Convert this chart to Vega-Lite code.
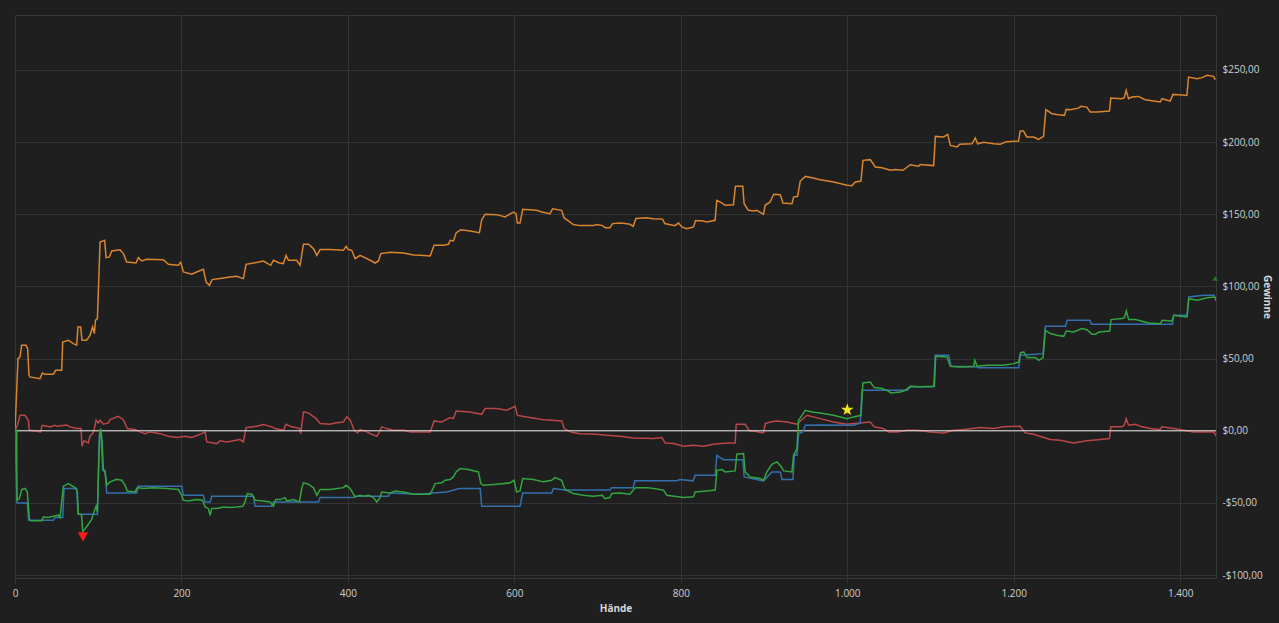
{
  "$schema": "https://vega.github.io/schema/vega-lite/v6.json",
  "width": 1201,
  "height": 563,
  "autosize": {"type": "none"},
  "padding": {"left": 15, "top": 15, "right": 63, "bottom": 45},
  "background": "#1f1f1f",
  "config": {
    "locale": {"number": {"decimal": ",", "thousands": ".", "grouping": [3], "currency": ["$", ""], "minus": "-"}},
    "view": {"stroke": "#383838", "strokeWidth": 1},
    "font": "Open Sans",
    "axis": {
      "gridColor": "#333333",
      "gridWidth": 1,
      "domain": false,
      "labelColor": "#cfcfcf",
      "labelFontSize": 10,
      "titleColor": "#d8d8d8",
      "titleFontSize": 10,
      "titleFontWeight": "bold"
    }
  },
  "datasets": {
    "lines": [
      {"series":"Gewinne","hand":0,"value":0},{"series":"Gewinne","hand":3.6,"value":50},{"series":"Gewinne","hand":6,"value":51},{"series":"Gewinne","hand":8,"value":59.3},{"series":"Gewinne","hand":13.2,"value":59.3},{"series":"Gewinne","hand":15.2,"value":56.9},{"series":"Gewinne","hand":16.8,"value":38.4},{"series":"Gewinne","hand":18,"value":37.3},{"series":"Gewinne","hand":30,"value":36.1},{"series":"Gewinne","hand":32.9,"value":40},{"series":"Gewinne","hand":36,"value":39.1},{"series":"Gewinne","hand":46,"value":39.1},{"series":"Gewinne","hand":48.9,"value":41.9},{"series":"Gewinne","hand":56.1,"value":41.9},{"series":"Gewinne","hand":57.3,"value":61.5},{"series":"Gewinne","hand":64.1,"value":62.7},{"series":"Gewinne","hand":70.1,"value":60.4},{"series":"Gewinne","hand":74.1,"value":59.3},{"series":"Gewinne","hand":75.7,"value":71.9},{"series":"Gewinne","hand":78.9,"value":71.9},{"series":"Gewinne","hand":80.5,"value":62.7},{"series":"Gewinne","hand":86.1,"value":62.7},{"series":"Gewinne","hand":90.1,"value":66.1},{"series":"Gewinne","hand":93.3,"value":71.9},{"series":"Gewinne","hand":95.4,"value":67.3},{"series":"Gewinne","hand":96.6,"value":76.5},{"series":"Gewinne","hand":99,"value":77.7},{"series":"Gewinne","hand":100.6,"value":104.2},{"series":"Gewinne","hand":102.2,"value":130.8},{"series":"Gewinne","hand":107.8,"value":131.9},{"series":"Gewinne","hand":109.4,"value":119.9},{"series":"Gewinne","hand":113.4,"value":120.4},{"series":"Gewinne","hand":116.2,"value":124.5},{"series":"Gewinne","hand":126.2,"value":125.4},{"series":"Gewinne","hand":130.2,"value":122.7},{"series":"Gewinne","hand":134.2,"value":116.9},{"series":"Gewinne","hand":145.4,"value":116.2},{"series":"Gewinne","hand":148.2,"value":119.9},{"series":"Gewinne","hand":152.2,"value":117.6},{"series":"Gewinne","hand":158.3,"value":118.8},{"series":"Gewinne","hand":178.3,"value":118.5},{"series":"Gewinne","hand":184.3,"value":115.3},{"series":"Gewinne","hand":196.3,"value":114.6},{"series":"Gewinne","hand":199.1,"value":116.7},{"series":"Gewinne","hand":202.3,"value":110},{"series":"Gewinne","hand":212.3,"value":108.4},{"series":"Gewinne","hand":218.3,"value":110},{"series":"Gewinne","hand":226.4,"value":111.8},{"series":"Gewinne","hand":229.6,"value":103},{"series":"Gewinne","hand":233.6,"value":100.7},{"series":"Gewinne","hand":236.8,"value":104.7},{"series":"Gewinne","hand":246.4,"value":105.4},{"series":"Gewinne","hand":258.4,"value":106.5},{"series":"Gewinne","hand":266.4,"value":107},{"series":"Gewinne","hand":274.4,"value":105.4},{"series":"Gewinne","hand":277.6,"value":115.3},{"series":"Gewinne","hand":286.5,"value":116.2},{"series":"Gewinne","hand":298.5,"value":117.6},{"series":"Gewinne","hand":307.3,"value":114.6},{"series":"Gewinne","hand":310.5,"value":118.1},{"series":"Gewinne","hand":317.7,"value":116.2},{"series":"Gewinne","hand":322.5,"value":115.8},{"series":"Gewinne","hand":325.7,"value":121.5},{"series":"Gewinne","hand":328.5,"value":118.1},{"series":"Gewinne","hand":338.5,"value":118.1},{"series":"Gewinne","hand":342.5,"value":114.6},{"series":"Gewinne","hand":346.6,"value":129.2},{"series":"Gewinne","hand":352.6,"value":129.2},{"series":"Gewinne","hand":358.6,"value":126.2},{"series":"Gewinne","hand":362.6,"value":121.5},{"series":"Gewinne","hand":366.6,"value":125.5},{"series":"Gewinne","hand":378.6,"value":125.5},{"series":"Gewinne","hand":394.6,"value":125},{"series":"Gewinne","hand":397.8,"value":127.8},{"series":"Gewinne","hand":400.6,"value":125.5},{"series":"Gewinne","hand":404.6,"value":125},{"series":"Gewinne","hand":408.7,"value":119.2},{"series":"Gewinne","hand":414.7,"value":121.5},{"series":"Gewinne","hand":426.7,"value":118.1},{"series":"Gewinne","hand":432.7,"value":116.2},{"series":"Gewinne","hand":436.7,"value":117.6},{"series":"Gewinne","hand":439.5,"value":122.7},{"series":"Gewinne","hand":450.7,"value":123.6},{"series":"Gewinne","hand":466.7,"value":123.2},{"series":"Gewinne","hand":478.8,"value":121.8},{"series":"Gewinne","hand":486.8,"value":121.5},{"series":"Gewinne","hand":498.8,"value":121},{"series":"Gewinne","hand":503.6,"value":128.5},{"series":"Gewinne","hand":514.8,"value":128.5},{"series":"Gewinne","hand":520.8,"value":129.2},{"series":"Gewinne","hand":522.8,"value":131.9},{"series":"Gewinne","hand":526.8,"value":131.5},{"series":"Gewinne","hand":530,"value":137},{"series":"Gewinne","hand":535.6,"value":139.3},{"series":"Gewinne","hand":546.8,"value":138.4},{"series":"Gewinne","hand":558,"value":137.2},{"series":"Gewinne","hand":560.8,"value":146.2},{"series":"Gewinne","hand":564.8,"value":149.9},{"series":"Gewinne","hand":578.8,"value":149.7},{"series":"Gewinne","hand":588.8,"value":148.1},{"series":"Gewinne","hand":594,"value":149.9},{"series":"Gewinne","hand":598.8,"value":151.5},{"series":"Gewinne","hand":602,"value":150.4},{"series":"Gewinne","hand":603.6,"value":143.9},{"series":"Gewinne","hand":606.8,"value":143.9},{"series":"Gewinne","hand":610,"value":153.4},{"series":"Gewinne","hand":626.8,"value":152.7},{"series":"Gewinne","hand":632.8,"value":151.5},{"series":"Gewinne","hand":642.8,"value":150.4},{"series":"Gewinne","hand":646,"value":153.8},{"series":"Gewinne","hand":656.8,"value":152.7},{"series":"Gewinne","hand":659.6,"value":147.6},{"series":"Gewinne","hand":664.8,"value":145.4},{"series":"Gewinne","hand":670.8,"value":142.8},{"series":"Gewinne","hand":678.8,"value":142.1},{"series":"Gewinne","hand":694.8,"value":142.1},{"series":"Gewinne","hand":698.8,"value":142.8},{"series":"Gewinne","hand":706,"value":142.1},{"series":"Gewinne","hand":709.2,"value":140.7},{"series":"Gewinne","hand":714.8,"value":140.7},{"series":"Gewinne","hand":718,"value":143.5},{"series":"Gewinne","hand":726.8,"value":143.9},{"series":"Gewinne","hand":732.8,"value":143.5},{"series":"Gewinne","hand":738.8,"value":143},{"series":"Gewinne","hand":742.8,"value":141.6},{"series":"Gewinne","hand":746,"value":147.1},{"series":"Gewinne","hand":758.8,"value":147.6},{"series":"Gewinne","hand":766.8,"value":146.9},{"series":"Gewinne","hand":778,"value":146.6},{"series":"Gewinne","hand":780.8,"value":143.5},{"series":"Gewinne","hand":792.8,"value":142.1},{"series":"Gewinne","hand":797.2,"value":143.9},{"series":"Gewinne","hand":801.2,"value":141.2},{"series":"Gewinne","hand":807.2,"value":140},{"series":"Gewinne","hand":815.2,"value":141.2},{"series":"Gewinne","hand":817.6,"value":145.4},{"series":"Gewinne","hand":825.2,"value":145.4},{"series":"Gewinne","hand":831.2,"value":144.7},{"series":"Gewinne","hand":841.2,"value":145.8},{"series":"Gewinne","hand":843.2,"value":159.6},{"series":"Gewinne","hand":849.2,"value":157.8},{"series":"Gewinne","hand":853.2,"value":156.2},{"series":"Gewinne","hand":863.2,"value":156.6},{"series":"Gewinne","hand":865.6,"value":169.3},{"series":"Gewinne","hand":874.4,"value":169.3},{"series":"Gewinne","hand":876,"value":157.3},{"series":"Gewinne","hand":881.2,"value":152.7},{"series":"Gewinne","hand":887.3,"value":152.2},{"series":"Gewinne","hand":891.3,"value":152.7},{"series":"Gewinne","hand":899.3,"value":149.9},{"series":"Gewinne","hand":901.3,"value":156.2},{"series":"Gewinne","hand":907.3,"value":158.5},{"series":"Gewinne","hand":911.5,"value":163.8},{"series":"Gewinne","hand":919.5,"value":163.5},{"series":"Gewinne","hand":922.7,"value":157.8},{"series":"Gewinne","hand":933.5,"value":157.3},{"series":"Gewinne","hand":935.5,"value":161.9},{"series":"Gewinne","hand":940.3,"value":162.4},{"series":"Gewinne","hand":943.5,"value":173},{"series":"Gewinne","hand":949.5,"value":176.2},{"series":"Gewinne","hand":957.5,"value":175.3},{"series":"Gewinne","hand":967.5,"value":173.9},{"series":"Gewinne","hand":983.6,"value":172.3},{"series":"Gewinne","hand":999.6,"value":170},{"series":"Gewinne","hand":1005.6,"value":169.8},{"series":"Gewinne","hand":1009.6,"value":172.3},{"series":"Gewinne","hand":1016.4,"value":173},{"series":"Gewinne","hand":1018.8,"value":187.3},{"series":"Gewinne","hand":1027.6,"value":187.8},{"series":"Gewinne","hand":1033.7,"value":182.7},{"series":"Gewinne","hand":1041.7,"value":182.2},{"series":"Gewinne","hand":1051.7,"value":180.4},{"series":"Gewinne","hand":1057.7,"value":180.9},{"series":"Gewinne","hand":1066.9,"value":180.4},{"series":"Gewinne","hand":1075.7,"value":184.3},{"series":"Gewinne","hand":1085.7,"value":183.2},{"series":"Gewinne","hand":1087.7,"value":184.5},{"series":"Gewinne","hand":1103.8,"value":183.7},{"series":"Gewinne","hand":1105.8,"value":203.9},{"series":"Gewinne","hand":1115.8,"value":203.5},{"series":"Gewinne","hand":1120.6,"value":205.3},{"series":"Gewinne","hand":1123.8,"value":197.7},{"series":"Gewinne","hand":1131.8,"value":196.6},{"series":"Gewinne","hand":1135,"value":198.4},{"series":"Gewinne","hand":1149.8,"value":198.8},{"series":"Gewinne","hand":1153.8,"value":202.8},{"series":"Gewinne","hand":1156.6,"value":198.8},{"series":"Gewinne","hand":1163.8,"value":199.8},{"series":"Gewinne","hand":1175.8,"value":198.8},{"series":"Gewinne","hand":1183.8,"value":198.4},{"series":"Gewinne","hand":1189.8,"value":200},{"series":"Gewinne","hand":1195.8,"value":200.4},{"series":"Gewinne","hand":1205.8,"value":200.7},{"series":"Gewinne","hand":1207.7,"value":207.6},{"series":"Gewinne","hand":1211.7,"value":207.6},{"series":"Gewinne","hand":1215.7,"value":203.5},{"series":"Gewinne","hand":1223.8,"value":203.5},{"series":"Gewinne","hand":1229.8,"value":201.9},{"series":"Gewinne","hand":1235.8,"value":203.9},{"series":"Gewinne","hand":1238.6,"value":222.4},{"series":"Gewinne","hand":1245.8,"value":219.6},{"series":"Gewinne","hand":1253.8,"value":218.9},{"series":"Gewinne","hand":1261,"value":218.5},{"series":"Gewinne","hand":1263,"value":222.6},{"series":"Gewinne","hand":1267.8,"value":222.4},{"series":"Gewinne","hand":1277.8,"value":223.5},{"series":"Gewinne","hand":1280.6,"value":224.7},{"series":"Gewinne","hand":1287.8,"value":224.2},{"series":"Gewinne","hand":1291.8,"value":220.8},{"series":"Gewinne","hand":1299.8,"value":220.8},{"series":"Gewinne","hand":1315,"value":221.5},{"series":"Gewinne","hand":1316.6,"value":230.5},{"series":"Gewinne","hand":1329.8,"value":230},{"series":"Gewinne","hand":1332.7,"value":230.7},{"series":"Gewinne","hand":1335.1,"value":235.8},{"series":"Gewinne","hand":1337.9,"value":230},{"series":"Gewinne","hand":1341.9,"value":231.2},{"series":"Gewinne","hand":1349.9,"value":231.6},{"series":"Gewinne","hand":1357.9,"value":229.3},{"series":"Gewinne","hand":1367.9,"value":228.4},{"series":"Gewinne","hand":1376,"value":227.7},{"series":"Gewinne","hand":1378,"value":230},{"series":"Gewinne","hand":1388,"value":228.4},{"series":"Gewinne","hand":1391.2,"value":233},{"series":"Gewinne","hand":1398,"value":232.8},{"series":"Gewinne","hand":1408,"value":232.3},{"series":"Gewinne","hand":1410,"value":245},{"series":"Gewinne","hand":1420.1,"value":243.9},{"series":"Gewinne","hand":1426.1,"value":244.6},{"series":"Gewinne","hand":1432.1,"value":246.2},{"series":"Gewinne","hand":1440.1,"value":245.5},{"series":"Gewinne","hand":1442.1,"value":243.2},

      {"series":"Ohne Showdown","hand":0,"value":0},{"series":"Ohne Showdown","hand":2.8,"value":3.8},{"series":"Ohne Showdown","hand":6,"value":10.7},{"series":"Ohne Showdown","hand":12,"value":10.7},{"series":"Ohne Showdown","hand":16,"value":7.3},{"series":"Ohne Showdown","hand":17.2,"value":0.3},{"series":"Ohne Showdown","hand":24,"value":-0.1},{"series":"Ohne Showdown","hand":30.8,"value":-0.8},{"series":"Ohne Showdown","hand":32.5,"value":3.8},{"series":"Ohne Showdown","hand":42,"value":2.7},{"series":"Ohne Showdown","hand":48,"value":3.8},{"series":"Ohne Showdown","hand":50.1,"value":3.1},{"series":"Ohne Showdown","hand":62.1,"value":4},{"series":"Ohne Showdown","hand":66.1,"value":2.7},{"series":"Ohne Showdown","hand":74.1,"value":1.5},{"series":"Ohne Showdown","hand":79.3,"value":1.5},{"series":"Ohne Showdown","hand":80.5,"value":-10.7},{"series":"Ohne Showdown","hand":82.9,"value":-7},{"series":"Ohne Showdown","hand":88.1,"value":-8.4},{"series":"Ohne Showdown","hand":90.1,"value":-3.8},{"series":"Ohne Showdown","hand":93.3,"value":-2},{"series":"Ohne Showdown","hand":95,"value":0.3},{"series":"Ohne Showdown","hand":97.4,"value":7.3},{"series":"Ohne Showdown","hand":100.2,"value":5.4},{"series":"Ohne Showdown","hand":102.2,"value":7.3},{"series":"Ohne Showdown","hand":106.2,"value":4.5},{"series":"Ohne Showdown","hand":112.2,"value":5.4},{"series":"Ohne Showdown","hand":114.2,"value":7.7},{"series":"Ohne Showdown","hand":124.2,"value":10},{"series":"Ohne Showdown","hand":130.2,"value":7.7},{"series":"Ohne Showdown","hand":135,"value":1.5},{"series":"Ohne Showdown","hand":144.2,"value":0.8},{"series":"Ohne Showdown","hand":150.2,"value":-0.8},{"series":"Ohne Showdown","hand":156.2,"value":-2},{"series":"Ohne Showdown","hand":162.3,"value":-0.8},{"series":"Ohne Showdown","hand":174.3,"value":-2},{"series":"Ohne Showdown","hand":184.3,"value":-3.8},{"series":"Ohne Showdown","hand":194.3,"value":-4.7},{"series":"Ohne Showdown","hand":204.3,"value":-3.8},{"series":"Ohne Showdown","hand":212.3,"value":-4.7},{"series":"Ohne Showdown","hand":224.4,"value":-2},{"series":"Ohne Showdown","hand":228.4,"value":-0.8},{"series":"Ohne Showdown","hand":230.4,"value":-7.7},{"series":"Ohne Showdown","hand":242.4,"value":-8.9},{"series":"Ohne Showdown","hand":246.4,"value":-7},{"series":"Ohne Showdown","hand":254.4,"value":-7.7},{"series":"Ohne Showdown","hand":270.4,"value":-6.1},{"series":"Ohne Showdown","hand":274.4,"value":-7.7},{"series":"Ohne Showdown","hand":277.6,"value":2.2},{"series":"Ohne Showdown","hand":290.5,"value":3.1},{"series":"Ohne Showdown","hand":298.5,"value":4.3},{"series":"Ohne Showdown","hand":308.5,"value":2.7},{"series":"Ohne Showdown","hand":312.5,"value":1.5},{"series":"Ohne Showdown","hand":322.5,"value":0.3},{"series":"Ohne Showdown","hand":325.7,"value":4.5},{"series":"Ohne Showdown","hand":332.5,"value":2.7},{"series":"Ohne Showdown","hand":341.7,"value":1.7},{"series":"Ohne Showdown","hand":343.3,"value":-2},{"series":"Ohne Showdown","hand":346.6,"value":13},{"series":"Ohne Showdown","hand":352.6,"value":12.4},{"series":"Ohne Showdown","hand":361.8,"value":8.4},{"series":"Ohne Showdown","hand":366.6,"value":5},{"series":"Ohne Showdown","hand":378.6,"value":4.5},{"series":"Ohne Showdown","hand":384.6,"value":5.4},{"series":"Ohne Showdown","hand":394.6,"value":6.1},{"series":"Ohne Showdown","hand":398.6,"value":9.6},{"series":"Ohne Showdown","hand":402.6,"value":7.7},{"series":"Ohne Showdown","hand":407.5,"value":0.3},{"series":"Ohne Showdown","hand":411.5,"value":-1.5},{"series":"Ohne Showdown","hand":414.7,"value":0.8},{"series":"Ohne Showdown","hand":422.7,"value":-0.8},{"series":"Ohne Showdown","hand":426.7,"value":-2},{"series":"Ohne Showdown","hand":434.7,"value":-3.8},{"series":"Ohne Showdown","hand":437.9,"value":-0.8},{"series":"Ohne Showdown","hand":440.7,"value":2.7},{"series":"Ohne Showdown","hand":446.7,"value":1.5},{"series":"Ohne Showdown","hand":454.7,"value":0.3},{"series":"Ohne Showdown","hand":466.7,"value":0.3},{"series":"Ohne Showdown","hand":474.8,"value":-0.8},{"series":"Ohne Showdown","hand":498.8,"value":-0.8},{"series":"Ohne Showdown","hand":503.6,"value":6.8},{"series":"Ohne Showdown","hand":512.8,"value":6.1},{"series":"Ohne Showdown","hand":522.8,"value":9.1},{"series":"Ohne Showdown","hand":526.8,"value":8.4},{"series":"Ohne Showdown","hand":530,"value":13.7},{"series":"Ohne Showdown","hand":546.8,"value":13},{"series":"Ohne Showdown","hand":560.8,"value":11.4},{"series":"Ohne Showdown","hand":564.8,"value":15.4},{"series":"Ohne Showdown","hand":578.8,"value":15.4},{"series":"Ohne Showdown","hand":590.9,"value":14.2},{"series":"Ohne Showdown","hand":600.9,"value":17},{"series":"Ohne Showdown","hand":603.7,"value":10.6},{"series":"Ohne Showdown","hand":615,"value":9.6},{"series":"Ohne Showdown","hand":635,"value":7.7},{"series":"Ohne Showdown","hand":645,"value":7.3},{"series":"Ohne Showdown","hand":657,"value":6.8},{"series":"Ohne Showdown","hand":659.8,"value":1.5},{"series":"Ohne Showdown","hand":669,"value":-1},{"series":"Ohne Showdown","hand":679,"value":-2},{"series":"Ohne Showdown","hand":699,"value":-2.4},{"series":"Ohne Showdown","hand":711,"value":-3.1},{"series":"Ohne Showdown","hand":727,"value":-3.8},{"series":"Ohne Showdown","hand":743,"value":-5},{"series":"Ohne Showdown","hand":767.2,"value":-5.4},{"series":"Ohne Showdown","hand":777.2,"value":-4.7},{"series":"Ohne Showdown","hand":781.2,"value":-8.5},{"series":"Ohne Showdown","hand":791.2,"value":-8.9},{"series":"Ohne Showdown","hand":803.2,"value":-10.7},{"series":"Ohne Showdown","hand":815.2,"value":-10},{"series":"Ohne Showdown","hand":827.2,"value":-10.7},{"series":"Ohne Showdown","hand":839.3,"value":-9.3},{"series":"Ohne Showdown","hand":847.3,"value":-8.9},{"series":"Ohne Showdown","hand":859.3,"value":-8.4},{"series":"Ohne Showdown","hand":865.3,"value":-8.4},{"series":"Ohne Showdown","hand":866.5,"value":4.5},{"series":"Ohne Showdown","hand":877.3,"value":4.5},{"series":"Ohne Showdown","hand":882.5,"value":-0.1},{"series":"Ohne Showdown","hand":887.4,"value":-0.1},{"series":"Ohne Showdown","hand":893.4,"value":-0.8},{"series":"Ohne Showdown","hand":899.4,"value":-1.5},{"series":"Ohne Showdown","hand":901.4,"value":5},{"series":"Ohne Showdown","hand":907.4,"value":6.1},{"series":"Ohne Showdown","hand":915.5,"value":6.8},{"series":"Ohne Showdown","hand":927.5,"value":6.1},{"series":"Ohne Showdown","hand":939.5,"value":4.5},{"series":"Ohne Showdown","hand":951.5,"value":10.7},{"series":"Ohne Showdown","hand":967.5,"value":8.4},{"series":"Ohne Showdown","hand":983.6,"value":6.1},{"series":"Ohne Showdown","hand":999.6,"value":4.5},{"series":"Ohne Showdown","hand":1007.6,"value":5},{"series":"Ohne Showdown","hand":1015.6,"value":5.4},{"series":"Ohne Showdown","hand":1027.6,"value":6.1},{"series":"Ohne Showdown","hand":1032.4,"value":2.7},{"series":"Ohne Showdown","hand":1043.6,"value":1.5},{"series":"Ohne Showdown","hand":1049.7,"value":-0.8},{"series":"Ohne Showdown","hand":1059.7,"value":-0.8},{"series":"Ohne Showdown","hand":1071.7,"value":0.3},{"series":"Ohne Showdown","hand":1083.7,"value":0.3},{"series":"Ohne Showdown","hand":1099.8,"value":-0.8},{"series":"Ohne Showdown","hand":1115.8,"value":-1.5},{"series":"Ohne Showdown","hand":1127.8,"value":0.3},{"series":"Ohne Showdown","hand":1139.8,"value":0.8},{"series":"Ohne Showdown","hand":1160,"value":2.2},{"series":"Ohne Showdown","hand":1175.8,"value":1.5},{"series":"Ohne Showdown","hand":1187.8,"value":2.7},{"series":"Ohne Showdown","hand":1207.8,"value":3.1},{"series":"Ohne Showdown","hand":1213.8,"value":-1.5},{"series":"Ohne Showdown","hand":1223.8,"value":-2.4},{"series":"Ohne Showdown","hand":1243.8,"value":-6.1},{"series":"Ohne Showdown","hand":1255.9,"value":-6.6},{"series":"Ohne Showdown","hand":1271.9,"value":-8.4},{"series":"Ohne Showdown","hand":1287.9,"value":-7},{"series":"Ohne Showdown","hand":1303.9,"value":-6.1},{"series":"Ohne Showdown","hand":1315,"value":-5.4},{"series":"Ohne Showdown","hand":1316.6,"value":2.7},{"series":"Ohne Showdown","hand":1329.8,"value":2.7},{"series":"Ohne Showdown","hand":1332.7,"value":3.8},{"series":"Ohne Showdown","hand":1335.1,"value":8.4},{"series":"Ohne Showdown","hand":1337.9,"value":3.8},{"series":"Ohne Showdown","hand":1346,"value":4.5},{"series":"Ohne Showdown","hand":1354,"value":2.7},{"series":"Ohne Showdown","hand":1364,"value":1.5},{"series":"Ohne Showdown","hand":1376,"value":0.8},{"series":"Ohne Showdown","hand":1378,"value":2.7},{"series":"Ohne Showdown","hand":1392,"value":1.5},{"series":"Ohne Showdown","hand":1404,"value":0.3},{"series":"Ohne Showdown","hand":1416.3,"value":-0.8},{"series":"Ohne Showdown","hand":1440.3,"value":-0.8},{"series":"Ohne Showdown","hand":1443.5,"value":-3.8},

      {"series":"All-in EV","hand":0,"value":0},{"series":"All-in EV","hand":2.4,"value":-50},{"series":"All-in EV","hand":14.8,"value":-50},{"series":"All-in EV","hand":16.4,"value":-62},{"series":"All-in EV","hand":46,"value":-62},{"series":"All-in EV","hand":48.1,"value":-60.1},{"series":"All-in EV","hand":57.3,"value":-60.1},{"series":"All-in EV","hand":58.9,"value":-40},{"series":"All-in EV","hand":74.1,"value":-40},{"series":"All-in EV","hand":75.7,"value":-57.8},{"series":"All-in EV","hand":99,"value":-57.8},{"series":"All-in EV","hand":101.4,"value":-2},{"series":"All-in EV","hand":103,"value":0.3},{"series":"All-in EV","hand":105.4,"value":-27.4},{"series":"All-in EV","hand":108.2,"value":-27.4},{"series":"All-in EV","hand":110.2,"value":-43.1},{"series":"All-in EV","hand":146.2,"value":-43.1},{"series":"All-in EV","hand":148.2,"value":-38.4},{"series":"All-in EV","hand":200.3,"value":-38.4},{"series":"All-in EV","hand":202.3,"value":-44.7},{"series":"All-in EV","hand":226.4,"value":-44.7},{"series":"All-in EV","hand":228.4,"value":-49.3},{"series":"All-in EV","hand":234.4,"value":-49.3},{"series":"All-in EV","hand":236.4,"value":-45.4},{"series":"All-in EV","hand":286.5,"value":-45.4},{"series":"All-in EV","hand":288.5,"value":-52.3},{"series":"All-in EV","hand":308.5,"value":-52.3},{"series":"All-in EV","hand":310.5,"value":-49.3},{"series":"All-in EV","hand":364.6,"value":-49.3},{"series":"All-in EV","hand":366.6,"value":-46.3},{"series":"All-in EV","hand":406.7,"value":-46.3},{"series":"All-in EV","hand":408.7,"value":-45.4},{"series":"All-in EV","hand":448.7,"value":-45.4},{"series":"All-in EV","hand":450.7,"value":-43.1},{"series":"All-in EV","hand":486.8,"value":-44},{"series":"All-in EV","hand":502.8,"value":-43.1},{"series":"All-in EV","hand":518.8,"value":-42.4},{"series":"All-in EV","hand":534.1,"value":-40},{"series":"All-in EV","hand":558.9,"value":-40},{"series":"All-in EV","hand":560.8,"value":-52.3},{"series":"All-in EV","hand":606.8,"value":-52.3},{"series":"All-in EV","hand":610,"value":-43.1},{"series":"All-in EV","hand":644.8,"value":-43.1},{"series":"All-in EV","hand":646.8,"value":-40},{"series":"All-in EV","hand":660.8,"value":-41.1},{"series":"All-in EV","hand":714.8,"value":-41.1},{"series":"All-in EV","hand":716.8,"value":-39.4},{"series":"All-in EV","hand":742.8,"value":-39.4},{"series":"All-in EV","hand":744.8,"value":-34.7},{"series":"All-in EV","hand":794.8,"value":-34.7},{"series":"All-in EV","hand":798.8,"value":-33.8},{"series":"All-in EV","hand":814.8,"value":-34.7},{"series":"All-in EV","hand":817.2,"value":-30.8},{"series":"All-in EV","hand":841.3,"value":-30.8},{"series":"All-in EV","hand":843.3,"value":-17},{"series":"All-in EV","hand":847.3,"value":-18.6},{"series":"All-in EV","hand":851.3,"value":-20},{"series":"All-in EV","hand":874.5,"value":-20},{"series":"All-in EV","hand":876.1,"value":-32},{"series":"All-in EV","hand":895.4,"value":-34.3},{"series":"All-in EV","hand":899.4,"value":-34.7},{"series":"All-in EV","hand":909.4,"value":-28.5},{"series":"All-in EV","hand":919.5,"value":-28.5},{"series":"All-in EV","hand":921.5,"value":-33.8},{"series":"All-in EV","hand":934.7,"value":-33.8},{"series":"All-in EV","hand":936.3,"value":-17},{"series":"All-in EV","hand":939.5,"value":-17},{"series":"All-in EV","hand":941.5,"value":-2},{"series":"All-in EV","hand":946.7,"value":-0.8},{"series":"All-in EV","hand":949.5,"value":3.8},{"series":"All-in EV","hand":967.5,"value":4},{"series":"All-in EV","hand":1007.6,"value":3.8},{"series":"All-in EV","hand":1015.6,"value":5.4},{"series":"All-in EV","hand":1017.6,"value":28},{"series":"All-in EV","hand":1071.8,"value":28},{"series":"All-in EV","hand":1075.8,"value":30.4},{"series":"All-in EV","hand":1103.8,"value":30.4},{"series":"All-in EV","hand":1105.8,"value":52.3},{"series":"All-in EV","hand":1121.8,"value":52.3},{"series":"All-in EV","hand":1124.6,"value":44.7},{"series":"All-in EV","hand":1156,"value":44.2},{"series":"All-in EV","hand":1158,"value":43.7},{"series":"All-in EV","hand":1206,"value":43.7},{"series":"All-in EV","hand":1208,"value":52.3},{"series":"All-in EV","hand":1235.2,"value":53.4},{"series":"All-in EV","hand":1238,"value":72.4},{"series":"All-in EV","hand":1262.2,"value":72.4},{"series":"All-in EV","hand":1264.2,"value":76.5},{"series":"All-in EV","hand":1291.6,"value":76.5},{"series":"All-in EV","hand":1293.3,"value":73.7},{"series":"All-in EV","hand":1390.6,"value":73.7},{"series":"All-in EV","hand":1392.2,"value":80},{"series":"All-in EV","hand":1408.2,"value":80},{"series":"All-in EV","hand":1410.3,"value":92.7},{"series":"All-in EV","hand":1428.3,"value":93.8},{"series":"All-in EV","hand":1441.8,"value":93.8},

      {"series":"Mit Showdown","hand":0,"value":0},{"series":"Mit Showdown","hand":2,"value":0.3},{"series":"Mit Showdown","hand":2.4,"value":-48},{"series":"Mit Showdown","hand":5.2,"value":-47},{"series":"Mit Showdown","hand":8,"value":-40.7},{"series":"Mit Showdown","hand":12,"value":-40},{"series":"Mit Showdown","hand":14.8,"value":-42.4},{"series":"Mit Showdown","hand":17.2,"value":-60.8},{"series":"Mit Showdown","hand":18.8,"value":-62.4},{"series":"Mit Showdown","hand":32.1,"value":-62.4},{"series":"Mit Showdown","hand":34.1,"value":-59.7},{"series":"Mit Showdown","hand":40.1,"value":-60.1},{"series":"Mit Showdown","hand":46,"value":-59.2},{"series":"Mit Showdown","hand":52.1,"value":-58.5},{"series":"Mit Showdown","hand":54.1,"value":-60.1},{"series":"Mit Showdown","hand":58.1,"value":-38.4},{"series":"Mit Showdown","hand":64.1,"value":-36.6},{"series":"Mit Showdown","hand":72.1,"value":-39.4},{"series":"Mit Showdown","hand":74.9,"value":-42.4},{"series":"Mit Showdown","hand":76.1,"value":-57.4},{"series":"Mit Showdown","hand":80.1,"value":-58.5},{"series":"Mit Showdown","hand":81.3,"value":-70},{"series":"Mit Showdown","hand":84.1,"value":-68},{"series":"Mit Showdown","hand":88.1,"value":-64.8},{"series":"Mit Showdown","hand":92.1,"value":-61.5},{"series":"Mit Showdown","hand":94.2,"value":-57.4},{"series":"Mit Showdown","hand":97.4,"value":-52.3},{"series":"Mit Showdown","hand":99,"value":-56.2},{"series":"Mit Showdown","hand":101.4,"value":-6.6},{"series":"Mit Showdown","hand":103,"value":1.5},{"series":"Mit Showdown","hand":104.6,"value":-6.6},{"series":"Mit Showdown","hand":106.2,"value":-27.4},{"series":"Mit Showdown","hand":108.2,"value":-28.5},{"series":"Mit Showdown","hand":110.2,"value":-37.7},{"series":"Mit Showdown","hand":114.2,"value":-35.4},{"series":"Mit Showdown","hand":122.2,"value":-33.6},{"series":"Mit Showdown","hand":128.2,"value":-34.3},{"series":"Mit Showdown","hand":132.2,"value":-37.7},{"series":"Mit Showdown","hand":135,"value":-41.7},{"series":"Mit Showdown","hand":144.2,"value":-42.4},{"series":"Mit Showdown","hand":147,"value":-39.4},{"series":"Mit Showdown","hand":154.3,"value":-40},{"series":"Mit Showdown","hand":166.3,"value":-39.4},{"series":"Mit Showdown","hand":182.3,"value":-40},{"series":"Mit Showdown","hand":196.3,"value":-40.7},{"series":"Mit Showdown","hand":200.3,"value":-44.7},{"series":"Mit Showdown","hand":202.3,"value":-48.1},{"series":"Mit Showdown","hand":208.3,"value":-48.6},{"series":"Mit Showdown","hand":218.3,"value":-47.7},{"series":"Mit Showdown","hand":225.4,"value":-48.1},{"series":"Mit Showdown","hand":228.4,"value":-52.8},{"series":"Mit Showdown","hand":232.4,"value":-53.9},{"series":"Mit Showdown","hand":234.4,"value":-58.5},{"series":"Mit Showdown","hand":236.4,"value":-53.9},{"series":"Mit Showdown","hand":242.4,"value":-53.9},{"series":"Mit Showdown","hand":250.4,"value":-52.8},{"series":"Mit Showdown","hand":258.4,"value":-53.2},{"series":"Mit Showdown","hand":266.4,"value":-52.8},{"series":"Mit Showdown","hand":273.6,"value":-52.3},{"series":"Mit Showdown","hand":276.4,"value":-49.3},{"series":"Mit Showdown","hand":279.2,"value":-43.5},{"series":"Mit Showdown","hand":284.5,"value":-44},{"series":"Mit Showdown","hand":288.5,"value":-48.1},{"series":"Mit Showdown","hand":298.5,"value":-48.6},{"series":"Mit Showdown","hand":306.5,"value":-49.3},{"series":"Mit Showdown","hand":310.5,"value":-52.3},{"series":"Mit Showdown","hand":313.3,"value":-47.7},{"series":"Mit Showdown","hand":318.5,"value":-47.7},{"series":"Mit Showdown","hand":324.5,"value":-46.3},{"series":"Mit Showdown","hand":326.5,"value":-48.6},{"series":"Mit Showdown","hand":334.5,"value":-47.7},{"series":"Mit Showdown","hand":341.7,"value":-49.3},{"series":"Mit Showdown","hand":344.5,"value":-40},{"series":"Mit Showdown","hand":346.6,"value":-36.1},{"series":"Mit Showdown","hand":352.6,"value":-37},{"series":"Mit Showdown","hand":358.6,"value":-39.4},{"series":"Mit Showdown","hand":362.6,"value":-44.7},{"series":"Mit Showdown","hand":366.6,"value":-40.7},{"series":"Mit Showdown","hand":378.6,"value":-40.7},{"series":"Mit Showdown","hand":394.6,"value":-39.4},{"series":"Mit Showdown","hand":397.8,"value":-37.7},{"series":"Mit Showdown","hand":402.6,"value":-40},{"series":"Mit Showdown","hand":408.7,"value":-45.8},{"series":"Mit Showdown","hand":414.7,"value":-44.7},{"series":"Mit Showdown","hand":418.7,"value":-45.4},{"series":"Mit Showdown","hand":424.7,"value":-44.7},{"series":"Mit Showdown","hand":430.7,"value":-46.3},{"series":"Mit Showdown","hand":434.7,"value":-49.3},{"series":"Mit Showdown","hand":437.9,"value":-47},{"series":"Mit Showdown","hand":440.7,"value":-42.4},{"series":"Mit Showdown","hand":450.7,"value":-43.1},{"series":"Mit Showdown","hand":456.7,"value":-41.7},{"series":"Mit Showdown","hand":466.7,"value":-42.4},{"series":"Mit Showdown","hand":478.8,"value":-44},{"series":"Mit Showdown","hand":498.8,"value":-44},{"series":"Mit Showdown","hand":502.8,"value":-39.4},{"series":"Mit Showdown","hand":504.8,"value":-36.6},{"series":"Mit Showdown","hand":512.8,"value":-36.1},{"series":"Mit Showdown","hand":516.8,"value":-34.3},{"series":"Mit Showdown","hand":522.8,"value":-33.8},{"series":"Mit Showdown","hand":526.8,"value":-32},{"series":"Mit Showdown","hand":530,"value":-28.5},{"series":"Mit Showdown","hand":534.8,"value":-26.2},{"series":"Mit Showdown","hand":544.8,"value":-26.9},{"series":"Mit Showdown","hand":556.8,"value":-28.5},{"series":"Mit Showdown","hand":559.7,"value":-36.6},{"series":"Mit Showdown","hand":562.7,"value":-37.7},{"series":"Mit Showdown","hand":578.8,"value":-37},{"series":"Mit Showdown","hand":594.8,"value":-36.1},{"series":"Mit Showdown","hand":599.6,"value":-34.3},{"series":"Mit Showdown","hand":602.8,"value":-42.4},{"series":"Mit Showdown","hand":606.8,"value":-41.7},{"series":"Mit Showdown","hand":610,"value":-33.1},{"series":"Mit Showdown","hand":622.8,"value":-33.8},{"series":"Mit Showdown","hand":634.8,"value":-35.4},{"series":"Mit Showdown","hand":644.8,"value":-34.3},{"series":"Mit Showdown","hand":648.8,"value":-32.5},{"series":"Mit Showdown","hand":656.8,"value":-34.3},{"series":"Mit Showdown","hand":660.8,"value":-40.7},{"series":"Mit Showdown","hand":670.8,"value":-43.5},{"series":"Mit Showdown","hand":682.8,"value":-44.7},{"series":"Mit Showdown","hand":694.8,"value":-45.4},{"series":"Mit Showdown","hand":705.8,"value":-44.7},{"series":"Mit Showdown","hand":708.8,"value":-47},{"series":"Mit Showdown","hand":714.8,"value":-46.3},{"series":"Mit Showdown","hand":716.8,"value":-43.5},{"series":"Mit Showdown","hand":726.8,"value":-43.1},{"series":"Mit Showdown","hand":738.8,"value":-44},{"series":"Mit Showdown","hand":745.2,"value":-39.4},{"series":"Mit Showdown","hand":759.2,"value":-39.4},{"series":"Mit Showdown","hand":767.2,"value":-40},{"series":"Mit Showdown","hand":779.2,"value":-41.1},{"series":"Mit Showdown","hand":783.2,"value":-44.7},{"series":"Mit Showdown","hand":803.2,"value":-46.3},{"series":"Mit Showdown","hand":815.2,"value":-45.8},{"series":"Mit Showdown","hand":817.2,"value":-42.4},{"series":"Mit Showdown","hand":831.2,"value":-41.7},{"series":"Mit Showdown","hand":841.3,"value":-41.1},{"series":"Mit Showdown","hand":843.3,"value":-27.4},{"series":"Mit Showdown","hand":849.3,"value":-26.9},{"series":"Mit Showdown","hand":853.3,"value":-28.5},{"series":"Mit Showdown","hand":865.3,"value":-27.8},{"series":"Mit Showdown","hand":867.3,"value":-16.3},{"series":"Mit Showdown","hand":875.3,"value":-15.8},{"series":"Mit Showdown","hand":877.3,"value":-28.5},{"series":"Mit Showdown","hand":883.3,"value":-32},{"series":"Mit Showdown","hand":895.4,"value":-33.1},{"series":"Mit Showdown","hand":899.4,"value":-34.3},{"series":"Mit Showdown","hand":903.4,"value":-28.5},{"series":"Mit Showdown","hand":909.4,"value":-23.2},{"series":"Mit Showdown","hand":915.4,"value":-21.6},{"series":"Mit Showdown","hand":920.3,"value":-24.6},{"series":"Mit Showdown","hand":923.5,"value":-27.8},{"series":"Mit Showdown","hand":933.5,"value":-28.5},{"series":"Mit Showdown","hand":935.5,"value":-17},{"series":"Mit Showdown","hand":939.5,"value":-12.4},{"series":"Mit Showdown","hand":941.5,"value":7.3},{"series":"Mit Showdown","hand":945.5,"value":10.7},{"series":"Mit Showdown","hand":949.5,"value":14.2},{"series":"Mit Showdown","hand":957.5,"value":13},{"series":"Mit Showdown","hand":967.5,"value":12.3},{"series":"Mit Showdown","hand":983.6,"value":10.7},{"series":"Mit Showdown","hand":999.6,"value":8.4},{"series":"Mit Showdown","hand":1007.6,"value":9.6},{"series":"Mit Showdown","hand":1016.4,"value":10.7},{"series":"Mit Showdown","hand":1018.8,"value":33.1},{"series":"Mit Showdown","hand":1027.6,"value":33.8},{"series":"Mit Showdown","hand":1032.4,"value":29.9},{"series":"Mit Showdown","hand":1041.7,"value":29.2},{"series":"Mit Showdown","hand":1047.7,"value":28},{"series":"Mit Showdown","hand":1052.5,"value":26.2},{"series":"Mit Showdown","hand":1063.7,"value":26.9},{"series":"Mit Showdown","hand":1069.7,"value":28},{"series":"Mit Showdown","hand":1075.7,"value":30.8},{"series":"Mit Showdown","hand":1087.7,"value":30.4},{"series":"Mit Showdown","hand":1104.6,"value":30.8},{"series":"Mit Showdown","hand":1106.2,"value":51.6},{"series":"Mit Showdown","hand":1119.8,"value":51.1},{"series":"Mit Showdown","hand":1123.8,"value":44.7},{"series":"Mit Showdown","hand":1135.8,"value":44.2},{"series":"Mit Showdown","hand":1152,"value":44.7},{"series":"Mit Showdown","hand":1153.2,"value":48.8},{"series":"Mit Showdown","hand":1156,"value":44.7},{"series":"Mit Showdown","hand":1168,"value":45.4},{"series":"Mit Showdown","hand":1188,"value":45.4},{"series":"Mit Showdown","hand":1200,"value":46.5},{"series":"Mit Showdown","hand":1206,"value":47.7},{"series":"Mit Showdown","hand":1208,"value":53.9},{"series":"Mit Showdown","hand":1212,"value":54.6},{"series":"Mit Showdown","hand":1216,"value":50.7},{"series":"Mit Showdown","hand":1226,"value":50.7},{"series":"Mit Showdown","hand":1230,"value":48.8},{"series":"Mit Showdown","hand":1235.2,"value":50.7},{"series":"Mit Showdown","hand":1238,"value":69.6},{"series":"Mit Showdown","hand":1244,"value":67.3},{"series":"Mit Showdown","hand":1252,"value":66.1},{"series":"Mit Showdown","hand":1260,"value":65.4},{"series":"Mit Showdown","hand":1263.2,"value":69.1},{"series":"Mit Showdown","hand":1272,"value":68.4},{"series":"Mit Showdown","hand":1282,"value":70.8},{"series":"Mit Showdown","hand":1288,"value":70},{"series":"Mit Showdown","hand":1294,"value":66.8},{"series":"Mit Showdown","hand":1298,"value":66.8},{"series":"Mit Showdown","hand":1302.1,"value":68.4},{"series":"Mit Showdown","hand":1315.3,"value":69.1},{"series":"Mit Showdown","hand":1316.9,"value":77},{"series":"Mit Showdown","hand":1330.1,"value":77.7},{"series":"Mit Showdown","hand":1332.9,"value":78.4},{"series":"Mit Showdown","hand":1335.3,"value":83},{"series":"Mit Showdown","hand":1338.1,"value":77},{"series":"Mit Showdown","hand":1346.2,"value":77},{"series":"Mit Showdown","hand":1362.2,"value":74.7},{"series":"Mit Showdown","hand":1376.2,"value":74.2},{"series":"Mit Showdown","hand":1378.2,"value":76.5},{"series":"Mit Showdown","hand":1390.2,"value":76.1},{"series":"Mit Showdown","hand":1392.2,"value":80},{"series":"Mit Showdown","hand":1400.2,"value":79.3},{"series":"Mit Showdown","hand":1408.2,"value":78.8},{"series":"Mit Showdown","hand":1410.3,"value":91.5},{"series":"Mit Showdown","hand":1420.3,"value":90.4},{"series":"Mit Showdown","hand":1432.3,"value":92.2},{"series":"Mit Showdown","hand":1441.8,"value":92.7},{"series":"Mit Showdown","hand":1443,"value":89.9}
    ],
    "markers": [
      {"kind": "min", "hand": 81.7, "value": -73.5},
      {"kind": "star", "hand": 1000, "value": 14.5},
      {"kind": "end", "hand": 1442, "value": 105.5}
    ],
    "zero": [{"value": 0}]
  },
  "layer": [
    {
      "data": {"name": "lines"},
      "transform": [{"filter": "datum.series === 'Gewinne'"}],
      "mark": {"type": "line", "color": "#d9852e", "strokeWidth": 1.5, "clip": true},
      "encoding": {
        "x": {"field": "hand", "type": "quantitative", "scale": {"domain": [0, 1443], "nice": false, "zero": false},
              "axis": {"title": "Hände", "values": [0,200,400,600,800,1000,1200,1400], "format": ",d", "labelFlush": false, "tickColor": "#333333", "tickSize": 5, "labelPadding": 5, "titlePadding": 5}},
        "y": {"field": "value", "type": "quantitative", "scale": {"domain": [-102, 288], "nice": false, "zero": false},
              "axis": {"title": "Gewinne", "orient": "right", "values": [-100,-50,0,50,100,150,200,250], "format": "$,.2f", "ticks": false, "labelPadding": 6, "titlePadding": -1}}
      }
    },
    {
      "data": {"name": "lines"},
      "transform": [{"filter": "datum.series === 'Ohne Showdown'"}],
      "mark": {"type": "line", "color": "#b94649", "strokeWidth": 1.5, "clip": true},
      "encoding": {"x": {"field": "hand", "type": "quantitative"}, "y": {"field": "value", "type": "quantitative"}}
    },
    {
      "data": {"name": "zero"},
      "mark": {"type": "rule", "color": "#e6e6e6", "strokeWidth": 1.2},
      "encoding": {"y": {"field": "value", "type": "quantitative"}}
    },
    {
      "data": {"name": "lines"},
      "transform": [{"filter": "datum.series === 'All-in EV'"}],
      "mark": {"type": "line", "color": "#3570ad", "strokeWidth": 1.5, "clip": true},
      "encoding": {"x": {"field": "hand", "type": "quantitative"}, "y": {"field": "value", "type": "quantitative"}}
    },
    {
      "data": {"name": "lines"},
      "transform": [{"filter": "datum.series === 'Mit Showdown'"}],
      "mark": {"type": "line", "color": "#33a540", "strokeWidth": 1.5, "clip": true},
      "encoding": {"x": {"field": "hand", "type": "quantitative"}, "y": {"field": "value", "type": "quantitative"}}
    },
    {
      "data": {"name": "markers"},
      "transform": [{"filter": "datum.kind === 'min'"}],
      "mark": {"type": "point", "shape": "triangle-down", "filled": true, "color": "#ff1a1a", "size": 110, "opacity": 1},
      "encoding": {"x": {"field": "hand", "type": "quantitative"}, "y": {"field": "value", "type": "quantitative"}}
    },
    {
      "data": {"name": "markers"},
      "transform": [{"filter": "datum.kind === 'star'"}],
      "mark": {"type": "point", "shape": "M0,-1L0.235,-0.324L0.951,-0.309L0.38,0.124L0.588,0.809L0,0.4L-0.588,0.809L-0.38,0.124L-0.951,-0.309L-0.235,-0.324Z", "filled": true, "color": "#f5e61a", "size": 170, "opacity": 1},
      "encoding": {"x": {"field": "hand", "type": "quantitative"}, "y": {"field": "value", "type": "quantitative"}}
    },
    {
      "data": {"name": "markers"},
      "transform": [{"filter": "datum.kind === 'end'"}],
      "mark": {"type": "point", "shape": "triangle-up", "filled": true, "color": "#1f7a25", "size": 30, "opacity": 1},
      "encoding": {"x": {"field": "hand", "type": "quantitative"}, "y": {"field": "value", "type": "quantitative"}}
    }
  ]
}
